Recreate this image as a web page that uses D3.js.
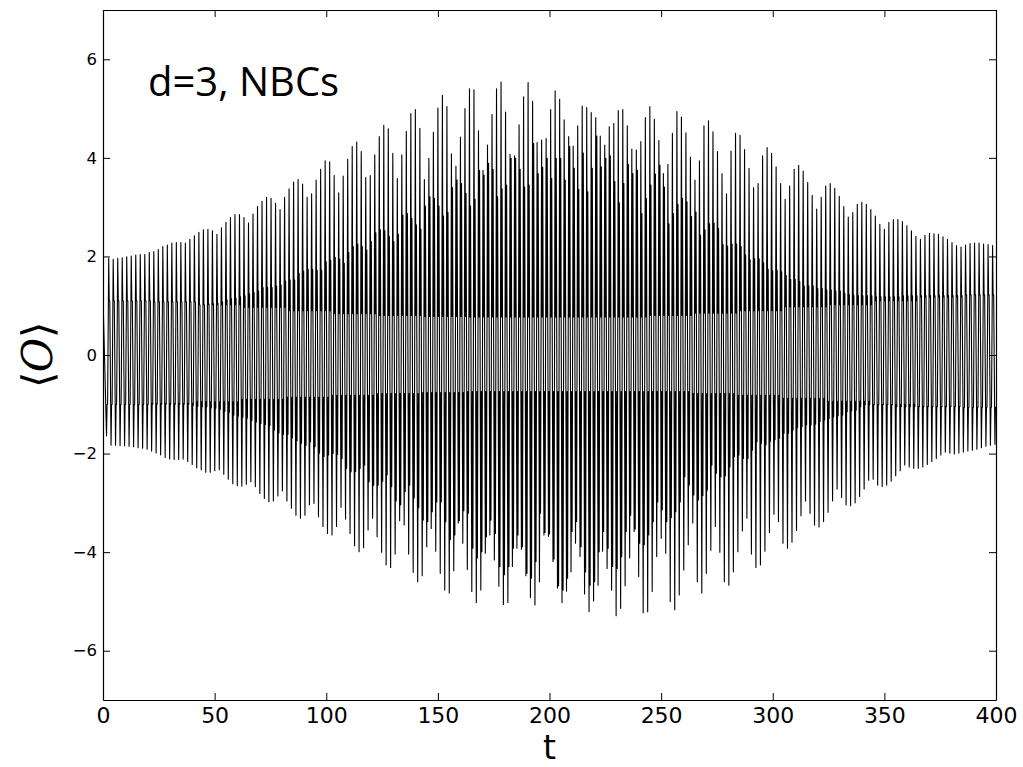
<!DOCTYPE html>
<html>
<head>
<meta charset="utf-8">
<script src="https://cdn.jsdelivr.net/npm/d3@7"></script>
<style>
    body { margin: 0; background: #fff; }
    svg { display: block; }
</style>
</head>
<body>
<svg id="chart" width="1023" height="767"></svg>
<script>
// sampling of the extrema (time axis, t units)
var period = 2.02;
var firstMaxT = 2.55;
var firstMinT = 1.58;
var startValue = 1.18;

// tall maxima, one per oscillation
var maxima = [
    1.96,1.94,1.96,1.97,1.99,2.01,2.03,2.04,2.04,2.08,
    2.10,2.14,2.20,2.23,2.27,2.28,2.28,2.27,2.35,2.42,
    2.49,2.54,2.55,2.52,2.45,2.58,2.69,2.79,2.85,2.85,
    2.79,2.68,2.86,3.01,3.12,3.20,3.18,3.08,2.95,3.20,
    3.37,3.51,3.56,3.47,3.20,3.27,3.55,3.77,3.94,3.92,
    3.64,3.29,3.63,3.97,4.23,4.32,4.13,3.60,3.64,4.06,
    4.43,4.66,4.59,4.09,3.58,
    4.06,4.54,4.90,4.98,4.60,3.56,3.99,4.52,5.01,5.27,
    5.04,4.08,3.83,4.42,5.00,5.40,5.38,4.55,3.75,4.26,
    4.88,5.40,5.54,4.93,4.07,4.04,4.67,5.24,5.53,5.15,
    4.31,4.36,4.39,4.98,5.36,5.19,4.77,4.43,4.24,4.65,
    5.05,5.02,4.92,4.82,4.44,4.26,4.63,4.70,4.96,4.98,
    4.65,4.18,4.16,4.33,4.82,5.04,4.78,4.35,3.68,3.87,
    4.50,4.94,4.83,4.51,4.01,3.55,
    3.94,4.65,4.75,4.53,4.13,3.68,3.27,4.14,4.50,4.46,
    4.17,3.79,3.40,3.48,4.04,4.21,4.09,3.82,3.48,3.16,
    3.43,3.77,3.85,3.73,3.50,3.24,2.96,3.20,3.43,3.48,
    3.38,3.22,3.01,2.80,2.89,3.06,3.10,3.06,2.95,2.82,
    2.65,2.55,2.69,2.75,2.75,2.71,2.62,2.52,2.41,2.35,
    2.43,2.47,2.46,2.45,2.40,2.35,2.28,2.22,2.19,2.23,
    2.26,2.27,2.27,2.25,2.24,2.22
];

// tall minima
var minima = [
    -1.64,-1.83,-1.83,-1.84,-1.84,-1.85,-1.86,-1.88,-1.89,-1.91,
    -1.95,-1.99,-2.03,-2.08,-2.11,-2.12,-2.12,-2.11,-2.16,-2.22,
    -2.29,-2.33,-2.38,-2.38,-2.35,-2.33,-2.42,-2.52,-2.61,-2.65,
    -2.66,-2.62,-2.57,-2.67,-2.81,-2.91,-2.98,-2.96,-2.86,-2.76,
    -2.96,-3.11,-3.25,-3.31,-3.25,-3.04,-3.01,-3.28,-3.48,-3.62,
    -3.65,-3.48,-3.09,-3.33,-3.62,-3.87,-3.99,-3.91,-3.55,-3.31,
    -3.69,-4.00,-4.26,-4.31,-4.04,-3.36,
    -3.45,-4.04,-4.41,-4.60,-4.48,-3.89,-3.52,-3.98,-4.43,-4.77,
    -4.83,-4.38,-3.41,-3.82,-4.35,-4.80,-5.02,-4.77,-4.02,-3.65,
    -4.16,-4.69,-5.06,-5.02,-4.29,-3.92,-3.94,-4.48,-4.92,-5.07,
    -4.60,-3.65,-3.68,-4.19,-4.73,-5.02,-4.79,-4.40,-3.82,-4.09,
    -4.85,-5.21,-4.99,-4.67,-3.98,-4.33,-4.77,-5.29,-5.14,-4.68,
    -4.12,-3.58,-4.50,-5.23,-5.21,-4.80,-4.09,-3.72,-4.02,-5.00,
    -5.17,-4.87,-4.36,-3.85,-3.41,-4.60,
    -4.83,-4.43,-3.96,-3.48,-4.00,-4.60,-4.67,-4.40,-3.99,-3.57,
    -3.31,-4.04,-4.31,-4.26,-3.98,-3.60,-3.23,-3.38,-3.82,-3.92,
    -3.80,-3.56,-3.26,-2.96,-3.21,-3.45,-3.49,-3.38,-3.19,-2.96,
    -2.72,-2.89,-3.04,-3.06,-3.00,-2.87,-2.72,-2.54,-2.52,-2.64,
    -2.67,-2.64,-2.56,-2.45,-2.35,-2.23,-2.27,-2.30,-2.30,-2.27,
    -2.22,-2.16,-2.10,-2.03,-1.97,-1.99,-2.01,-1.99,-1.97,-1.95,
    -1.93,-1.91,-1.88,-1.85,-1.83,-1.81
];

// secondary (smaller) maxima, one per oscillation
var secondaryMax = [
    1.10,1.10,1.10,1.10,1.10,1.10,1.10,1.10,1.10,1.10,
    1.08,1.08,1.08,1.08,1.08,1.08,1.08,1.08,1.08,1.08,
    1.01,1.02,1.03,1.04,1.05,1.08,1.12,1.14,1.15,1.18,
    1.20,1.24,1.27,1.30,1.37,1.37,1.37,1.40,1.42,1.50,
    1.52,1.52,1.66,1.70,1.74,1.74,1.72,1.72,1.89,1.92,
    1.98,1.94,1.86,2.08,2.20,2.25,2.20,2.13,2.30,2.48,
    2.54,2.52,2.41,2.30,2.45,
    2.84,2.87,2.77,2.64,2.55,3.02,3.21,3.18,3.02,2.82,
    2.89,3.40,3.55,3.48,3.28,3.02,3.16,3.75,3.65,3.89,
    3.77,3.21,3.37,3.45,3.99,4.04,3.77,3.41,3.45,4.29,
    3.68,3.81,3.99,3.58,3.99,3.99,3.55,4.23,3.79,3.36,
    4.10,3.31,3.79,4.44,3.82,3.99,4.04,3.52,3.09,3.48,
    3.87,3.68,3.75,2.87,3.18,3.45,3.67,3.85,3.41,2.66,
    2.87,3.06,3.18,3.11,2.81,2.90,
    2.43,2.54,2.66,2.67,2.57,2.24,2.21,2.25,2.25,2.20,
    2.03,1.93,1.95,1.95,1.87,1.74,1.71,1.72,1.69,1.61,
    1.53,1.53,1.49,1.40,1.40,1.40,1.35,1.35,1.32,1.32,
    1.30,1.30,1.25,1.22,1.21,1.20,1.20,1.20,1.20,1.18,
    1.18,1.18,1.18,1.18,1.18,1.20,1.20,1.20,1.20,1.20,
    1.20,1.20,1.20,1.20,1.20,1.20,1.20,1.20,1.20,1.20,
    1.20,1.20,1.20,1.20,1.20,1.20
];

// secondary minima
var secondaryMin = [
    -1.00,-1.00,-1.00,-1.00,-1.00,-1.00,-1.00,-1.00,-1.00,-1.00,
    -1.00,-1.00,-1.00,-1.00,-1.00,-1.00,-1.00,-1.00,-1.00,
    -1.02,-1.04,-1.05,-1.05,-1.07,-1.08,-1.10,-1.14,-1.16,-1.22,
    -1.24,-1.26,-1.28,-1.33,-1.36,-1.39,-1.41,-1.43,-1.52,-1.58,
    -1.61,-1.61,-1.68,-1.74,-1.79,-1.83,-1.76,-1.86,-1.99,-2.06,
    -2.03,-2.00,-2.02,-2.10,-2.30,-2.37,-2.37,-2.30,-2.23,-2.57,
    -2.64,-2.64,-2.56,-2.43,-2.67,-2.96,-3.04,
    -2.77,-2.64,-2.90,-3.10,-3.35,-3.38,-3.18,-2.98,-2.98,-3.38,
    -3.75,-3.65,-3.38,-3.16,-3.21,-3.92,-4.12,-3.99,-3.69,-3.35,
    -3.62,-4.29,-4.46,-4.29,-3.92,-3.65,-4.46,-4.56,-4.53,-4.19,
    -3.21,-3.67,-4.19,-4.50,-4.70,-4.77,-4.53,-3.58,-3.38,-3.89,
    -4.40,-4.67,-4.60,-3.99,-3.58,-3.92,-4.29,-4.33,-4.09,-3.58,
    -3.25,-3.65,-3.82,-3.85,-3.65,-3.38,-2.98,-3.14,-3.38,-3.30,
    -3.18,-2.98,-2.47,-2.64,-2.84,-2.94,
    -2.85,-2.74,-2.23,-2.40,-2.47,-2.45,-2.27,-2.06,-2.03,-2.10,
    -2.10,-1.93,-1.76,-1.79,-1.82,-1.75,-1.72,-1.69,-1.59,-1.59,
    -1.52,-1.47,-1.45,-1.42,-1.42,-1.40,-1.35,-1.32,-1.29,-1.25,
    -1.23,-1.22,-1.15,-1.13,-1.12,-1.05,-1.01,-1.01,-1.01,-1.01,
    -1.01,-1.01,-1.01,-1.05,-1.05,-1.05,-1.05,-1.05,-1.05,-1.05,
    -1.05,-1.05,-1.05,-1.05,-1.05,-1.05,-1.05,-1.05,-1.05,-1.05,
    -1.05,-1.05,-1.05,-1.05,-1.05,-1.05
];

// edges of the inner band (turning points), one value per 10 oscillations
var innerTop = [1.10,1.08,1.02,0.97,0.90,0.84,0.80,0.78,0.77,0.77,
                0.77,0.77,0.80,0.85,0.90,0.98,1.02,1.10,1.18,1.22];
var innerBottom = [-1.00,-0.98,-0.95,-0.90,-0.86,-0.82,-0.78,-0.76,-0.74,-0.74,
                   -0.74,-0.74,-0.74,-0.78,-0.82,-0.88,-0.94,-1.00,-1.04,-1.06];

var xTicks = [0, 50, 100, 150, 200, 250, 300, 350, 400];
var yTicks = [-6, -4, -2, 0, 2, 4, 6];

var margin = {left: 103, right: 996, top: 10, bottom: 700};

var svg = d3.select("#chart");

var x = d3.scaleLinear().domain([0, 400]).range([margin.left, margin.right]);
var y = d3.scaleLinear().domain([-7, 7]).range([margin.bottom, margin.top]);

// build the trace: min -> inner turn -> secondary min -> max -> inner turn -> secondary max -> next min
var pts = [[0, startValue]];
for (var j = 0; j < minima.length; j++) {
    var tm = firstMinT + j * period;
    var chunk = Math.min(Math.floor(j / 10), innerTop.length - 1);
    var m = minima[j];
    var ib = innerBottom[chunk];
    var sb = Math.min(Math.max(secondaryMin[j], m + 0.05), ib);
    pts.push([tm, m]);
    pts.push([tm + 0.12 * period, ib]);
    pts.push([tm + 0.24 * period, sb]);
    if (j < maxima.length) {
        var tM = firstMaxT + j * period;
        var M = maxima[j];
        var it = innerTop[chunk];
        var st = Math.max(Math.min(secondaryMax[j], M - 0.05), it);
        pts.push([tM, M]);
        pts.push([tM + 0.12 * period, it]);
        pts.push([tM + 0.24 * period, st]);
    }
}

svg.append("clipPath").attr("id", "plotClip")
    .append("rect")
    .attr("x", margin.left).attr("y", margin.top)
    .attr("width", margin.right - margin.left)
    .attr("height", margin.bottom - margin.top);

var line = d3.line()
    .x(function (d) { return x(d[0]); })
    .y(function (d) { return y(d[1]); });

svg.append("path")
    .datum(pts)
    .attr("clip-path", "url(#plotClip)")
    .attr("fill", "none")
    .attr("stroke", "#000")
    .attr("stroke-width", 1.1)
    .attr("stroke-linejoin", "round")
    .attr("d", line);

// axes, matplotlib style: ticks pointing inwards on every side
var tickLen = 7;

var gBottom = svg.append("g")
    .attr("transform", "translate(0," + margin.bottom + ")")
    .call(d3.axisBottom(x).tickValues(xTicks).tickSize(-tickLen).tickSizeOuter(0).tickPadding(7)
        .tickFormat(d3.format("d")));
gBottom.selectAll("text")
    .style("font-family", "DejaVu Sans")
    .style("font-size", "22px")
    .attr("fill", "#000");

var gTop = svg.append("g")
    .attr("transform", "translate(0," + margin.top + ")")
    .call(d3.axisTop(x).tickValues(xTicks).tickSize(-tickLen).tickSizeOuter(0).tickFormat(""));

var gLeft = svg.append("g")
    .attr("transform", "translate(" + margin.left + ",0)")
    .call(d3.axisLeft(y).tickValues(yTicks).tickSize(-tickLen).tickSizeOuter(0).tickPadding(6)
        .tickFormat(d3.format("d")));
gLeft.selectAll("text")
    .style("font-family", "DejaVu Sans")
    .style("font-size", "16.5px")
    .attr("fill", "#000");

var gRight = svg.append("g")
    .attr("transform", "translate(" + margin.right + ",0)")
    .call(d3.axisRight(y).tickValues(yTicks).tickSize(-tickLen).tickSizeOuter(0).tickFormat(""));

svg.selectAll(".domain").attr("stroke", "#000").attr("stroke-width", 1.2);
svg.selectAll(".tick line").attr("stroke", "#000").attr("stroke-width", 1);

// labels
svg.append("text")
    .attr("x", (margin.left + margin.right) / 2)
    .attr("y", 759)
    .attr("text-anchor", "middle")
    .style("font-family", "DejaVu Sans")
    .style("font-size", "33px")
    .text("t");

var ylab = svg.append("text")
    .attr("transform", "translate(52," + ((margin.top + margin.bottom) / 2) + ") rotate(-90)")
    .attr("text-anchor", "middle")
    .style("font-size", "42px");
ylab.append("tspan").style("font-family", "DejaVu Sans").style("font-weight", "200").text("\u27E8");
ylab.append("tspan").style("font-family", "DejaVu Serif").style("font-style", "italic").text("O");
ylab.append("tspan").style("font-family", "DejaVu Sans").style("font-weight", "200").text("\u27E9");

svg.append("text")
    .attr("x", 148)
    .attr("y", 96)
    .style("font-family", "Open Sans")
    .style("font-size", "40px")
    .text("d=3, NBCs");
</script>
</body>
</html>
